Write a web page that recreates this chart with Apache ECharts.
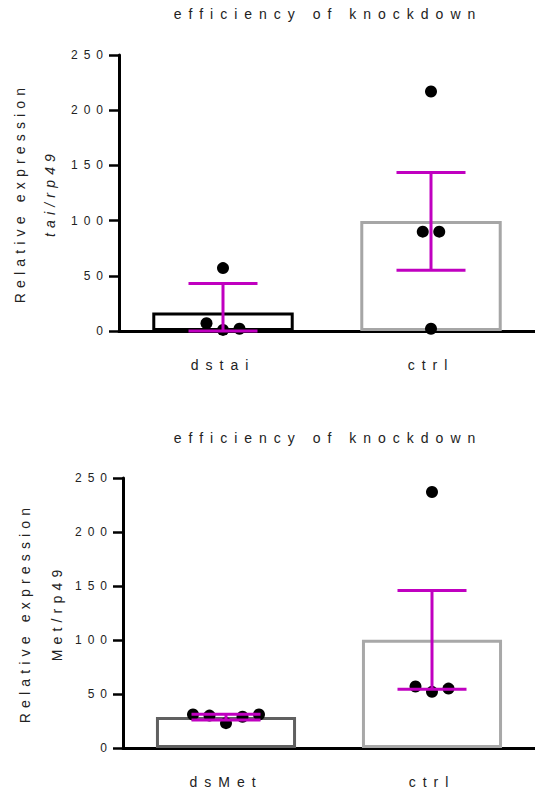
<!DOCTYPE html>
<html><head><meta charset="utf-8">
<script src="https://cdn.jsdelivr.net/npm/echarts/dist/echarts.min.js"></script>
<style>
html,body{margin:0;padding:0;background:#fff;}
#c{width:535px;height:792px;}
#c text{letter-spacing:0.5em;}
#c text[style*="yname"]{letter-spacing:0.37em;}
</style></head><body><div id="c"></div>
<script>
// ---------- data ----------
const titleText = 'efficiency of knockdown';
const yTicks = [0, 50, 100, 150, 200, 250];

const topCategories = ['dstai', 'ctrl'];
const topMeans = [16.75, 99.75];
const topDstaiPoints = [57, 7, 1, 2];
const topCtrlPoints = [217, 90, 90, 2];
const topErrLow = [0, 55];
const topErrHigh = [43, 143.5];
const topYName = 'Relative expression';
const topYSub = 'tai/rp49';

const botCategories = ['dsMet', 'ctrl'];
const botMeans = [28.8, 100.3];
const botDsMetPoints = [31, 30, 23, 29, 31];
const botCtrlPoints = [237, 57, 52, 55];
const botErrLow = [26, 54.5];
const botErrHigh = [31.3, 145.8];
const botYName = 'Relative expression';
const botYSub = 'Met/rp49';

// ---------- layout / style ----------
const jitterTopDstai = [0, -1, 0, 1];
const jitterTopCtrl = [0, -0.5, 0.5, 0];
const jitterBotDsMet = [-2, -1, 0, 1, 2];
const jitterBotCtrl = [0, -1, 0, 1];
const JITTER_PX = 16.5;
const DOT_R = 6;
const CAP_HALF = 34.5;
const MAGENTA = '#c000c0';
const FONT = "'Liberation Sans', Arial, sans-serif";
const YNAME_FONT = "'Liberation Sans', yname";
const topBarColors = ['#000000', '#a6a6a6'];
const botBarColors = ['#606060', '#a8a8a8'];

function dotRender(params, api) {
  const p = api.coord([api.value(0), api.value(1)]);
  return { type: 'circle', shape: { cx: p[0] + api.value(2) * JITTER_PX, cy: p[1], r: DOT_R }, style: { fill: '#000' } };
}
function errRender(params, api) {
  const lo = api.coord([api.value(0), api.value(1)]);
  const hi = api.coord([api.value(0), api.value(2)]);
  const x = lo[0], hw = CAP_HALF;
  const st = { stroke: MAGENTA, lineWidth: 3 };
  return { type: 'group', children: [
    { type: 'line', shape: { x1: x, y1: lo[1], x2: x, y2: hi[1] }, style: st },
    { type: 'line', shape: { x1: x - hw, y1: hi[1], x2: x + hw, y2: hi[1] }, style: st },
    { type: 'line', shape: { x1: x - hw, y1: lo[1], x2: x + hw, y2: lo[1] }, style: st }
  ] };
}
function dots(groups, jitters) {
  const out = [];
  groups.forEach((g, ci) => g.forEach((v, i) => out.push([ci, v, jitters[ci][i]])));
  return out;
}
function xAxis(cats, gi) {
  return {
    type: 'category', data: cats, gridIndex: gi,
    axisLine: { lineStyle: { color: '#000', width: 3 } },
    axisTick: { alignWithLabel: true, length: 7, lineStyle: { color: '#000', width: 2.5 } },
    axisLabel: { margin: 27, fontSize: 14, color: '#222', fontFamily: FONT }
  };
}
function yAxis(gi, name, gap, italic, main) {
  return {
    type: 'value', gridIndex: gi, position: 'left', offset: 0,
    min: yTicks[0], max: yTicks[yTicks.length - 1], interval: yTicks[1] - yTicks[0],
    name: name, nameLocation: 'middle', nameGap: gap, nameRotate: 90,
    nameTextStyle: { fontSize: 14, color: '#222', fontFamily: YNAME_FONT, fontStyle: italic ? 'italic' : 'normal' },
    axisLine: { show: main, lineStyle: { color: '#000', width: 3 } },
    axisTick: { show: main, length: 10, lineStyle: { color: '#000', width: 2.5 } },
    axisLabel: { show: main, margin: 10, fontSize: 12, color: '#222', fontFamily: FONT },
    splitLine: { show: false }
  };
}
function bars(means, colors, gi) {
  return {
    type: 'bar', xAxisIndex: gi, yAxisIndex: gi * 2, barWidth: '68%', z: 2,
    data: means.map((m, i) => ({ value: m, itemStyle: { color: '#fff', borderColor: colors[i], borderWidth: 3 } }))
  };
}

const chart = echarts.init(document.getElementById('c'), null, { renderer: 'svg' });
chart.setOption({
  animation: false,
  backgroundColor: '#fff',
  title: [
    { text: titleText, left: 328, top: 7, textAlign: 'center', padding: 0,
      textStyle: { fontSize: 14, fontWeight: 'normal', color: '#222', fontFamily: FONT } },
    { text: titleText, left: 328, top: 431, textAlign: 'center', padding: 0,
      textStyle: { fontSize: 14, fontWeight: 'normal', color: '#222', fontFamily: FONT } }
  ],
  grid: [
    { left: 119, right: 0, top: 55, bottom: 461, outerBoundsMode: 'none' },
    { left: 123, right: 0, top: 478, bottom: 44, outerBoundsMode: 'none' }
  ],
  xAxis: [xAxis(topCategories, 0), xAxis(botCategories, 1)],
  yAxis: [
    yAxis(0, topYName, 92, false, true), yAxis(0, topYSub, 62, true, false),
    yAxis(1, botYName, 91, false, true), yAxis(1, botYSub, 59, false, false)
  ],
  series: [
    bars(topMeans, topBarColors, 0),
    bars(botMeans, botBarColors, 1),
    { type: 'custom', xAxisIndex: 0, yAxisIndex: 0, z: 3, renderItem: dotRender, encode: { x: 0, y: 1 },
      data: dots([topDstaiPoints, topCtrlPoints], [jitterTopDstai, jitterTopCtrl]) },
    { type: 'custom', xAxisIndex: 1, yAxisIndex: 2, z: 3, renderItem: dotRender, encode: { x: 0, y: 1 },
      data: dots([botDsMetPoints, botCtrlPoints], [jitterBotDsMet, jitterBotCtrl]) },
    { type: 'custom', xAxisIndex: 0, yAxisIndex: 0, z: 4, renderItem: errRender, encode: { x: 0, y: [1, 2] },
      data: topErrLow.map((l, i) => [i, l, topErrHigh[i]]) },
    { type: 'custom', xAxisIndex: 1, yAxisIndex: 2, z: 4, renderItem: errRender, encode: { x: 0, y: [1, 2] },
      data: botErrLow.map((l, i) => [i, l, botErrHigh[i]]) }
  ]
});
</script></body></html>
